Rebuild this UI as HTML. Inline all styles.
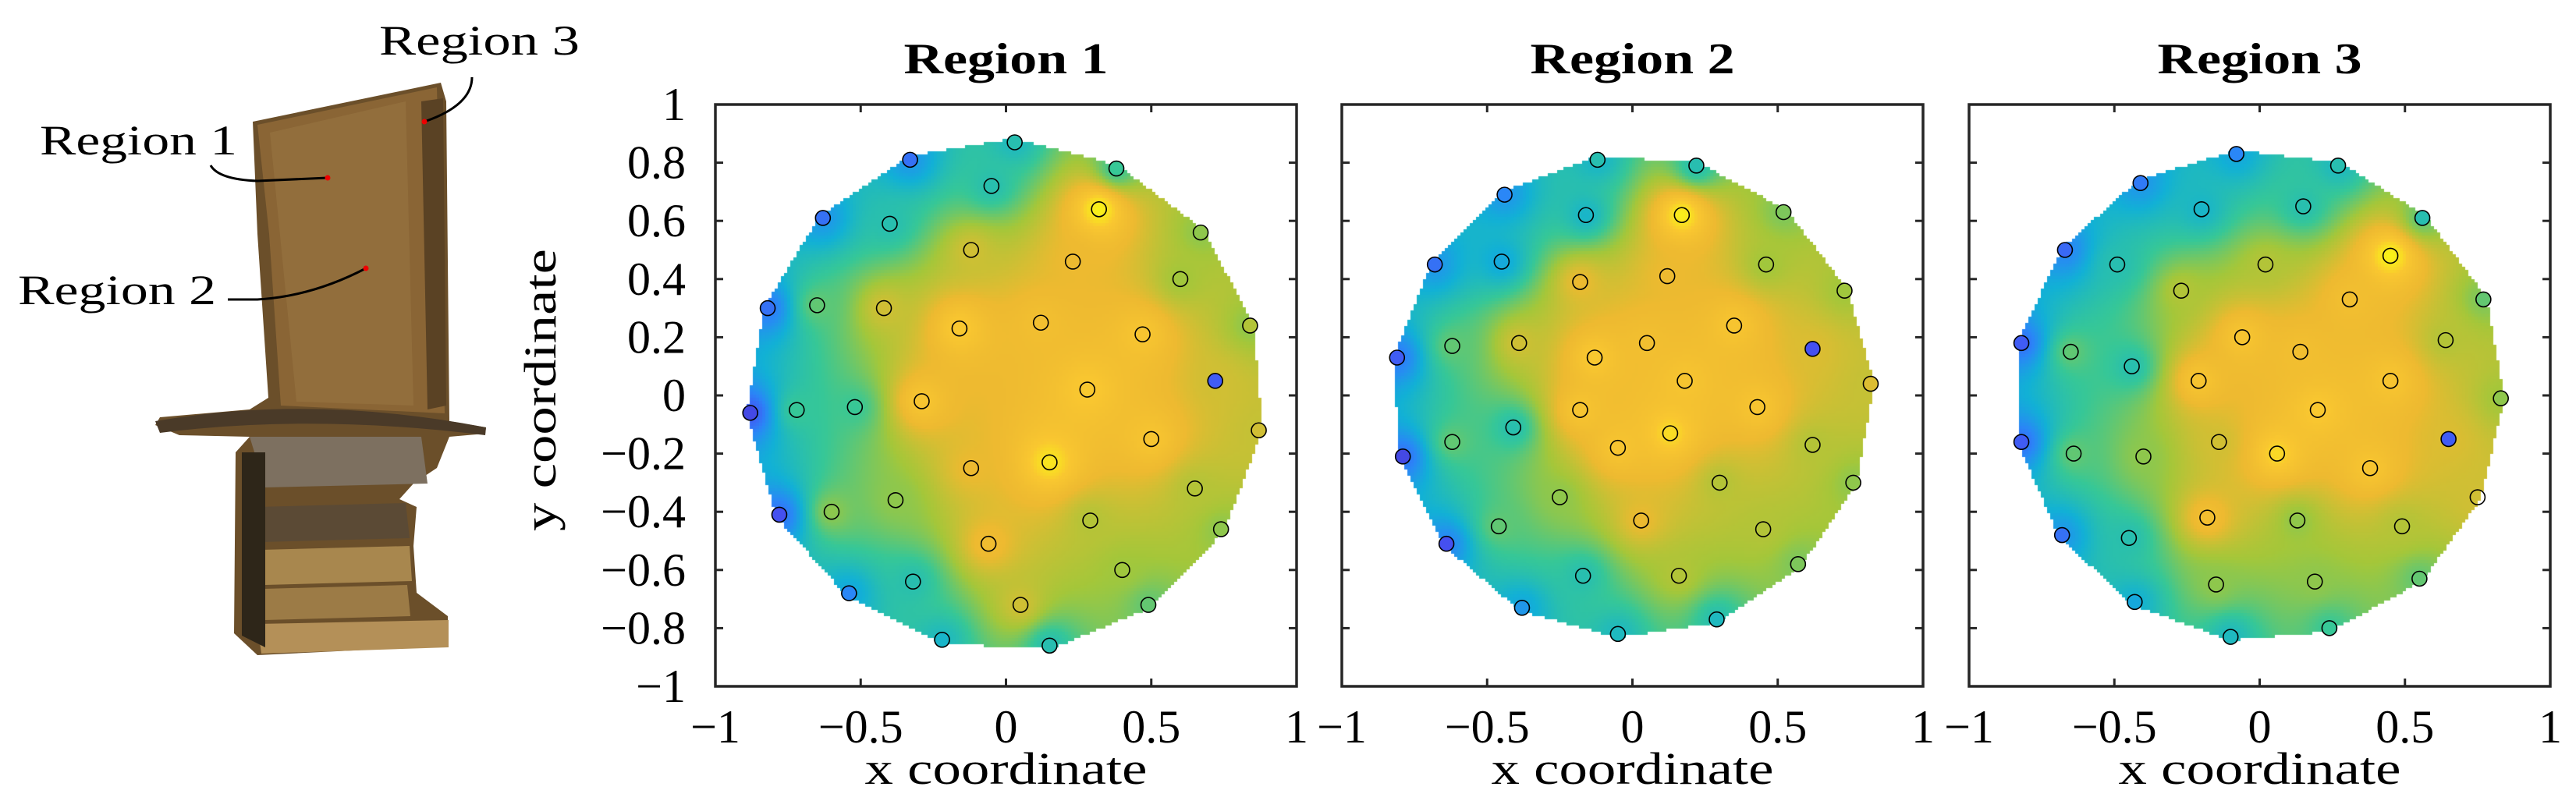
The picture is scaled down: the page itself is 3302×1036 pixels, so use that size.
<!DOCTYPE html>
<html><head><meta charset="utf-8"><style>
html,body{margin:0;padding:0;background:#fff;}
#wrap{position:relative;width:3302px;height:1036px;overflow:hidden;font-family:"Liberation Serif",serif;}
canvas{position:absolute;}
svg{position:absolute;left:0;top:0;}
</style></head><body>
<div id="wrap">
<canvas id="c1" width="745" height="746" style="left:917px;top:134px"></canvas>
<canvas id="c2" width="745" height="746" style="left:1720px;top:134px"></canvas>
<canvas id="c3" width="745" height="746" style="left:2524px;top:134px"></canvas>
<svg id="svg" width="3302" height="1036" xmlns="http://www.w3.org/2000/svg">
<g>
<path d="M324,156 L565,106 L572,130 L576,540 L623,548 L622,556 L576,560 L560,600 L530,620 L512,640 L534,650 L530,700 L534,760 L574,790 L575,828 L330,840 L300,812 L302,580 L320,560 L230,558 L199,545 L205,535 L320,525 L344,510 L330,300 Z" fill="#6b4f2a"/>
<path d="M330,160 L560,112 L570,530 L360,520 L345,300 Z" fill="#8a6535"/>
<path d="M346,170 L520,130 L530,520 L380,515 Z" fill="#93703f" opacity="0.8"/>
<path d="M540,130 L568,126 L572,520 L548,525 Z" fill="#5a4224"/>
<path d="M199,540 Q400,505 623,548 L622,558 Q400,530 205,555 Z" fill="#4a3a28"/>
<path d="M320,560 L540,560 L548,620 L340,625 Z" fill="#7d7060"/>
<path d="M330,650 L520,645 L525,690 L335,695 Z" fill="#5b4a35"/>
<path d="M335,705 L525,700 L528,745 L340,750 Z" fill="#a8874e"/>
<path d="M338,755 L522,750 L526,790 L340,795 Z" fill="#9c7b46"/>
<path d="M330,800 L575,795 L575,830 L335,838 Z" fill="#b49058"/>
<path d="M310,580 L340,580 L340,830 L310,815 Z" fill="#2e2619"/>
</g>
<g font-size="54" fill="#000">
<text x="51" y="198" textLength="253" lengthAdjust="spacingAndGlyphs">Region 1</text>
<text x="23" y="390" textLength="254" lengthAdjust="spacingAndGlyphs">Region 2</text>
<text x="486" y="70" textLength="257" lengthAdjust="spacingAndGlyphs">Region 3</text>
<path d="M270,212 Q280,230 330,232 L420,228" stroke="#000" stroke-width="3" fill="none"/>
<path d="M292,384 L330,384 Q400,380 469,344" stroke="#000" stroke-width="3" fill="none"/>
<path d="M544,156 Q605,135 605,99" stroke="#000" stroke-width="3" fill="none"/>
<circle cx="420" cy="228" r="3.5" fill="#e00"/>
<circle cx="469" cy="344" r="3.5" fill="#e00"/>
<circle cx="544" cy="156" r="3.5" fill="#e00"/>
</g>
<g id="plots"></g>
</svg>
</div>
<script>
// Region 1 data
const r1x=[0.03,-0.33,0.38,-0.05,-0.63,-0.40,0.32,0.67,-0.12,0.23,0.60,-0.82,-0.65,-0.42,-0.16,0.12,0.47,0.84,0.72,0.28,-0.29,-0.52,-0.72,-0.88,0.87,0.50,0.15,-0.12,0.65,-0.38,-0.60,-0.78,0.29,0.74,-0.06,0.40,-0.32,-0.54,0.05,0.49,-0.22,0.15];
const r1y=[0.87,0.81,0.78,0.72,0.61,0.59,0.64,0.56,0.50,0.46,0.40,0.30,0.31,0.30,0.23,0.25,0.21,0.24,0.05,0.02,-0.02,-0.04,-0.05,-0.06,-0.12,-0.15,-0.23,-0.25,-0.32,-0.36,-0.40,-0.41,-0.43,-0.46,-0.51,-0.60,-0.64,-0.68,-0.72,-0.72,-0.84,-0.86];
const r1v=[0.45,0.2,0.5,0.45,0.2,0.45,0.98,0.6,0.7,0.75,0.62,0.2,0.55,0.7,0.88,0.8,0.85,0.65,0.15,0.88,0.85,0.5,0.5,0.1,0.7,0.85,0.95,0.75,0.65,0.6,0.6,0.12,0.65,0.6,0.78,0.62,0.45,0.25,0.7,0.55,0.4,0.45];
const r1s=[0.42,0.3,0.5,0.45,0.3,0.45,0.98,0.6,0.7,0.75,0.62,0.22,0.55,0.7,0.88,0.8,0.85,0.6,0.7,0.88,0.85,0.5,0.5,0.15,0.68,0.85,0.95,0.75,0.65,0.6,0.6,0.2,0.65,0.6,0.78,0.62,0.45,0.35,0.7,0.55,0.42,0.45];
const r1f=[1,1,1,0,1,0,0,1,0,0,0,1,0,0,0,0,0,1,1,0,0,0,0,1,1,0,0,0,0,0,0,1,0,1,0,0,0,1,0,1,1,1];
// Region 2 data
const r2x=[-0.12,0.22,-0.44,-0.16,0.17,0.52,-0.68,-0.45,-0.18,0.12,0.46,0.73,0.35,-0.39,-0.62,0.05,-0.81,-0.13,0.62,0.18,0.82,-0.18,0.43,-0.41,0.13,-0.62,-0.05,0.62,-0.79,0.76,0.30,-0.25,0.03,-0.46,0.45,-0.64,0.57,-0.17,0.16,-0.38,0.29,-0.05];
const r2y=[0.81,0.79,0.69,0.62,0.62,0.63,0.45,0.46,0.39,0.41,0.45,0.36,0.24,0.18,0.17,0.18,0.13,0.13,0.16,0.05,0.04,-0.05,-0.04,-0.11,-0.13,-0.16,-0.18,-0.17,-0.21,-0.30,-0.30,-0.35,-0.43,-0.45,-0.46,-0.51,-0.58,-0.62,-0.62,-0.73,-0.77,-0.82];
const r2v=[0.45,0.45,0.25,0.4,0.97,0.58,0.2,0.35,0.75,0.75,0.62,0.62,0.85,0.7,0.55,0.8,0.15,0.88,0.12,0.85,0.72,0.85,0.85,0.45,0.93,0.55,0.85,0.65,0.1,0.6,0.65,0.6,0.75,0.55,0.65,0.12,0.58,0.45,0.65,0.3,0.42,0.42];
const r2s=[0.4,0.45,0.3,0.4,0.97,0.58,0.3,0.35,0.75,0.75,0.62,0.62,0.85,0.7,0.55,0.8,0.22,0.88,0.72,0.85,0.68,0.85,0.85,0.45,0.93,0.55,0.85,0.65,0.2,0.6,0.65,0.6,0.75,0.55,0.65,0.25,0.58,0.45,0.65,0.35,0.45,0.42];
const r2f=[1,1,1,0,0,1,1,0,0,0,0,1,0,0,0,0,1,0,1,0,1,0,0,0,0,0,0,0,1,1,0,0,0,0,0,1,1,0,0,1,1,1];
// Region 3 data
const r3x=[-0.08,0.27,-0.41,-0.20,0.15,0.56,-0.67,-0.49,0.02,0.45,-0.27,0.31,0.77,-0.06,0.64,-0.82,-0.65,0.14,-0.44,-0.21,0.45,0.83,0.20,-0.14,0.65,-0.82,-0.64,-0.40,0.06,0.38,0.75,-0.18,0.13,0.49,-0.68,-0.45,0.55,-0.15,0.19,-0.43,0.24,-0.10];
const r3y=[0.83,0.79,0.73,0.64,0.65,0.61,0.50,0.45,0.45,0.48,0.36,0.33,0.33,0.20,0.19,0.18,0.15,0.15,0.10,0.05,0.05,-0.01,-0.05,-0.16,-0.15,-0.16,-0.20,-0.21,-0.20,-0.25,-0.35,-0.42,-0.43,-0.45,-0.48,-0.49,-0.63,-0.65,-0.64,-0.71,-0.80,-0.83];
const r3v=[0.25,0.45,0.22,0.4,0.45,0.45,0.18,0.45,0.65,0.98,0.65,0.8,0.55,0.85,0.65,0.15,0.55,0.8,0.45,0.85,0.85,0.6,0.88,0.7,0.15,0.15,0.55,0.6,0.92,0.85,0.7,0.8,0.6,0.65,0.2,0.45,0.55,0.6,0.6,0.35,0.5,0.42];
const r3s=[0.35,0.42,0.3,0.4,0.45,0.55,0.25,0.45,0.65,0.98,0.65,0.8,0.58,0.85,0.65,0.2,0.55,0.8,0.45,0.85,0.85,0.62,0.88,0.7,0.72,0.2,0.55,0.6,0.92,0.85,0.7,0.8,0.6,0.65,0.3,0.45,0.55,0.6,0.6,0.38,0.5,0.42];
const r3f=[1,1,1,0,0,1,1,0,0,0,0,0,1,0,0,1,0,0,0,0,0,1,0,0,1,1,0,0,0,0,0,0,0,0,1,0,1,0,0,1,1,1];
const axisTicks=[-1,-0.5,0,0.5,1];
const axisTickLabels=["\u22121","\u22120.5","0","0.5","1"];
const yTicks=[-1,-0.8,-0.6,-0.4,-0.2,0,0.2,0.4,0.6,0.8,1];
const yTickLabels=["\u22121","\u22120.8","\u22120.6","\u22120.4","\u22120.2","0","0.2","0.4","0.6","0.8","1"];
const titles=["Region 1","Region 2","Region 3"];

const NS="http://www.w3.org/2000/svg";
const stops=[[0,62,38,168],[0.125,70,82,244],[0.25,42,135,247],[0.375,18,177,214],[0.5,55,200,151],[0.625,165,199,58],[0.75,238,186,48],[0.875,250,200,48],[1,249,251,20]];
function cmap(v){v=Math.max(0,Math.min(1,v));for(let i=1;i<stops.length;i++){if(v<=stops[i][0]){const a=stops[i-1],b=stops[i];const t=(v-a[0])/(b[0]-a[0]);return [a[1]+(b[1]-a[1])*t,a[2]+(b[2]-a[2])*t,a[3]+(b[3]-a[3])*t];}}return stops[stops.length-1].slice(1);}
function hull(pts){pts=pts.slice().sort((a,b)=>a[0]-b[0]||a[1]-b[1]);const cr=(o,a,b)=>(a[0]-o[0])*(b[1]-o[1])-(a[1]-o[1])*(b[0]-o[0]);const lo=[],up=[];for(const p of pts){while(lo.length>=2&&cr(lo[lo.length-2],lo[lo.length-1],p)<=0)lo.pop();lo.push(p);}for(let i=pts.length-1;i>=0;i--){const p=pts[i];while(up.length>=2&&cr(up[up.length-2],up[up.length-1],p)<=0)up.pop();up.push(p);}up.pop();lo.pop();return lo.concat(up);}
function inHull(h,x,y){for(let i=0;i<h.length;i++){const a=h[i],b=h[(i+1)%h.length];if((b[0]-a[0])*(y-a[1])-(b[1]-a[1])*(x-a[0])<0)return false;}return true;}
function mk(tag,attrs,parent){const e=document.createElementNS(NS,tag);for(const k in attrs)e.setAttribute(k,attrs[k]);parent.appendChild(e);return e;}

const plotsG=document.getElementById('plots');
const lefts=[917,1720,2524];const W=745,T=134,H=746;
const datasets=[[r1x,r1y,r1v,r1f,r1s],[r2x,r2y,r2v,r2f,r2s],[r3x,r3y,r3v,r3f,r3s]];
datasets.forEach((d,k)=>{
  const [xs,ys,vs,fs,ss]=d;const L=lefts[k];
  const sx=x=>(x+1)/2*W, sy=y=>(1-y)/2*H;
  const cv=document.getElementById('c'+(k+1));const ctx=cv.getContext('2d');
  const pts=xs.map((x,i)=>[x,ys[i]]);
  let h=hull(pts);
  const mx=xs.reduce((a,b)=>a+b,0)/xs.length,my=ys.reduce((a,b)=>a+b,0)/ys.length;
  h=h.map(p=>[mx+(p[0]-mx)*1.015,my+(p[1]-my)*1.015]);
  const cell=4;
  for(let py=0;py<H;py+=cell){for(let px=0;px<W;px+=cell){
    const x=(px+cell/2)/W*2-1,y=1-(py+cell/2)/H*2;
    if(!inHull(h,x,y))continue;
    let sw=0,sv=0;for(let i=0;i<xs.length;i++){const dx=x-xs[i],dy=y-ys[i];const d2=dx*dx+dy*dy+1e-5;const w=1/(d2*d2*0.6+d2*0.4);sw+=w;sv+=w*ss[i];}
    const c=cmap(sv/sw);ctx.fillStyle='rgb('+(c[0]|0)+','+(c[1]|0)+','+(c[2]|0)+')';ctx.fillRect(px,py,cell,cell);
  }}
  const g=mk('g',{transform:'translate('+L+','+T+')'},plotsG);
  
  
  xs.forEach((x,i)=>{
    let fill='none';if(fs[i]){const c=cmap(vs[i]);fill='rgb('+(c[0]|0)+','+(c[1]|0)+','+(c[2]|0)+')';}
    const c=mk('circle',{cx:sx(x),cy:sy(ys[i]),r:9.5,fill:fill,stroke:'#000','stroke-width':1.6},g);
    
    
  });
  const box=mk('rect',{x:0,y:0,width:W,height:H,fill:'none',stroke:'#262626','stroke-width':3.5},g);
  
  
  axisTicks.forEach((t,i)=>{
    const X=sx(t);
    mk('line',{x1:X,y1:H,x2:X,y2:H-10,stroke:'#262626','stroke-width':3},g);
    mk('line',{x1:X,y1:0,x2:X,y2:10,stroke:'#262626','stroke-width':3},g);
    const tx=mk('text',{x:X,y:952-T,'font-size':60,'text-anchor':'middle',fill:'#000','font-family':'Liberation Serif, serif'},g);
    tx.textContent=axisTickLabels[i];
    
    
  });
  yTicks.forEach((t,i)=>{
    const Y=sy(t);
    mk('line',{x1:0,y1:Y,x2:10,y2:Y,stroke:'#262626','stroke-width':3},g);
    mk('line',{x1:W,y1:Y,x2:W-10,y2:Y,stroke:'#262626','stroke-width':3},g);
    if(k===0){
      const ty=mk('text',{x:-38,y:Y+20,'font-size':60,'text-anchor':'end',fill:'#000','font-family':'Liberation Serif, serif'},g);
      ty.textContent=yTickLabels[i];
      
      
    }
  });
  const xl=mk('text',{x:W/2,y:1005-T,'font-size':58,'text-anchor':'middle',fill:'#000',textLength:362,lengthAdjust:'spacingAndGlyphs','font-family':'Liberation Serif, serif'},g);
  xl.textContent='x coordinate';
  
  
  const tt=mk('text',{x:W/2,y:94-T,'font-size':56,'font-weight':'bold','text-anchor':'middle',fill:'#000',textLength:262,lengthAdjust:'spacingAndGlyphs','font-family':'Liberation Serif, serif'},g);
  tt.textContent=titles[k];
  
  
  if(k===0){
    const yl=mk('text',{x:0,y:0,'font-size':58,'text-anchor':'middle',fill:'#000',textLength:362,lengthAdjust:'spacingAndGlyphs',transform:'translate('+(712-L)+','+(500-T)+') rotate(-90)','font-family':'Liberation Serif, serif'},g);
    yl.textContent='y coordinate';
    
    
  }
});
</script>
</body></html>
